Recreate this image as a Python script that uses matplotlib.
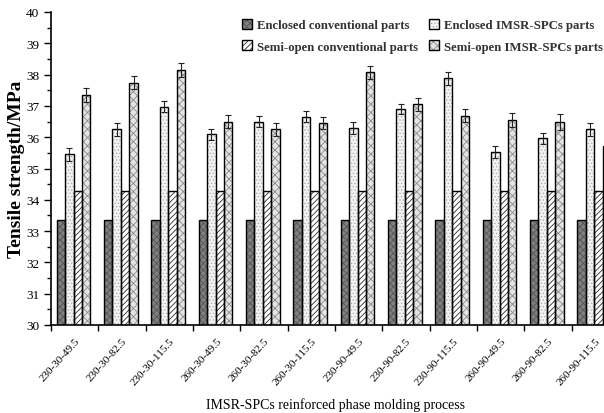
import numpy as np
import matplotlib
matplotlib.use('Agg')
import matplotlib.pyplot as plt
import matplotlib.transforms as mtransforms
from matplotlib.patches import Patch

plt.rcParams['font.family'] = ['Liberation Serif', 'DejaVu Serif']
plt.rcParams['hatch.linewidth'] = 0.6

processes = ['230-30-49.5', '230-30-82.5', '230-30-115.5', '260-30-49.5', '260-30-82.5', '260-30-115.5',
             '230-90-49.5', '230-90-82.5', '230-90-115.5', '260-90-49.5', '260-90-82.5', '260-90-115.5']

enclosed_conv = [33.35] * 12
enclosed_imsr = [35.45, 36.25, 36.98, 36.09, 36.5, 36.66, 36.3, 36.9, 37.88, 35.53, 35.97, 36.25]
enclosed_imsr_err = [0.2, 0.2, 0.19, 0.18, 0.18, 0.18, 0.2, 0.17, 0.2, 0.2, 0.18, 0.2]
semi_conv = [34.29] * 12
semi_imsr = [37.35, 37.74, 38.15, 36.5, 36.25, 36.45, 38.07, 37.05, 36.69, 36.54, 36.49, 35.72]
semi_imsr_err = [0.21, 0.2, 0.22, 0.22, 0.2, 0.2, 0.2, 0.2, 0.22, 0.22, 0.26, 0.22]

labels = ['Enclosed conventional parts', 'Enclosed IMSR-SPCs parts',
          'Semi-open conventional parts', 'Semi-open IMSR-SPCs parts']
# face colour, hatch, hatch colour
styles = [('#808080', 'xxxxx', '#555555'),
          ('#f3f3f3', '.....', '#b0b0b0'),
          ('white', '//////', '#2a2a2a'),
          ('#e4e4e4', 'xxxx', '#8a8a8a')]

series = [enclosed_conv, enclosed_imsr, semi_conv, semi_imsr]
errors = [None, enclosed_imsr_err, None, semi_imsr_err]

fig = plt.figure(figsize=(6.04, 4.14), dpi=100)
ax = fig.add_axes([51/604, 88/414, 568/604, 313/414])

x = np.arange(len(processes))
width = 0.178
handles = []
for k, (vals, err, (fc, hatch, hc)) in enumerate(zip(series, errors, styles)):
    pos = x + 0.12 + k * width
    ax.bar(pos, vals, width, align='edge', color=fc, hatch=hatch, edgecolor=hc, linewidth=0, zorder=2)
    ax.bar(pos, vals, width, align='edge', color='none', edgecolor='black', linewidth=1.0, zorder=3)
    if err is not None:
        ax.errorbar(pos + width / 2, vals, yerr=err, fmt='none', ecolor='#222222',
                    elinewidth=0.8, capsize=2.5, capthick=0.8, zorder=4)
    handles.append((Patch(facecolor=fc, hatch=hatch, edgecolor=hc, linewidth=0),
                    Patch(facecolor='none', edgecolor='black', linewidth=1.0)))

ax.set_ylim(30, 40)
ax.set_xlim(0, 12)
ax.set_yticks(np.arange(30, 41, 1))
ax.set_yticks(np.arange(30, 40.01, 0.5), minor=True)
ax.set_xticks(np.arange(0, 13))
ax.set_xticklabels([])
ax.set_xticks(x + 0.5, minor=True)
ax.set_xticklabels(processes, minor=True, rotation=48, ha='right', rotation_mode='anchor', fontsize=8)
shift = mtransforms.ScaledTranslation(12/100, 0, fig.dpi_scale_trans)
for lbl in ax.get_xticklabels(minor=True):
    lbl.set_transform(lbl.get_transform() + shift)
ax.tick_params(axis='x', which='minor', length=0, pad=8)
ax.tick_params(axis='x', which='major', length=4, width=1, direction='out')
ax.tick_params(axis='y', which='major', length=5, width=1, labelsize=9.5)
ax.tick_params(axis='y', which='minor', length=3, width=1)
for s in ['top', 'right']:
    ax.spines[s].set_visible(False)
for s in ['left', 'bottom']:
    ax.spines[s].set_linewidth(1.2)

ax.set_ylabel('Tensile strength/MPa', fontsize=14, fontweight='bold', labelpad=1)
fig.text(335/604, 1 - 405/414, 'IMSR-SPCs reinforced phase molding process', ha='center', va='center', fontsize=10)

order = [0, 2, 1, 3]
leg = fig.legend([handles[i] for i in order], [labels[i] for i in order], ncol=2,
                 loc='upper left', bbox_to_anchor=(242/604, 1 - 20/414), frameon=False,
                 prop={'weight': 'bold', 'size': 9.2}, handlelength=0.8, handleheight=0.8,
                 handletextpad=0.35, columnspacing=0.9, labelspacing=0.7, borderaxespad=0, borderpad=0)
for t in leg.get_texts():
    t.set_color('#333333')

fig.savefig('out.png', dpi=100)
